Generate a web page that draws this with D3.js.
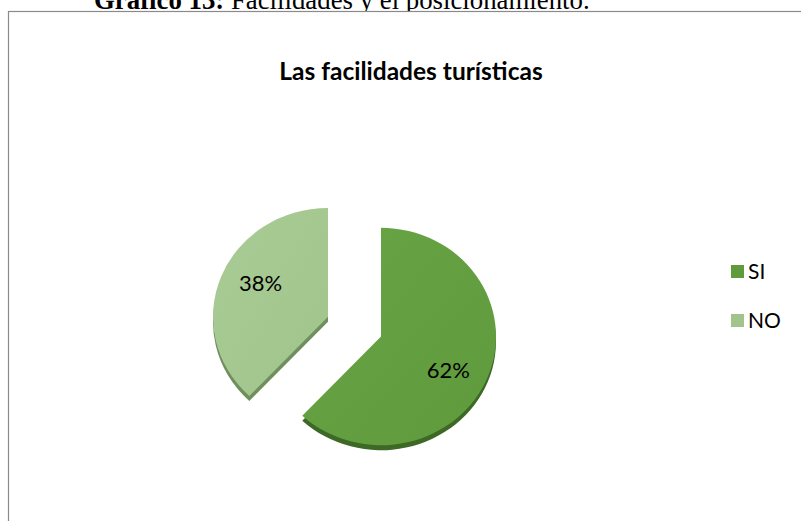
<!DOCTYPE html>
<html>
<head>
<meta charset="utf-8">
<script src="https://cdn.jsdelivr.net/npm/d3@7/dist/d3.min.js"></script>
<style>
  html, body { margin: 0; padding: 0; background: #ffffff; }
  svg { display: block; }
</style>
</head>
<body>
<svg id="chart" width="801" height="521"></svg>
<script>
// Survey answers: share of respondents
const categories = ["SI", "NO"];
const values = [62, 38];
const faceColors = ["#5f9a3c", "#a1c48c"];
const faceLight = ["#68a545", "#a9cb95"];
const sideColors = ["#3d6825", "#6f8f5c"];

const svg = d3.select("#chart");

// Caption above the chart frame (its top runs past the page edge)
const caption = svg.append("text")
  .attr("x", 94).attr("y", 9)
  .attr("font-family", "'Liberation Serif', 'Times New Roman', serif")
  .attr("font-size", 26.8)
  .attr("fill", "#000");
caption.append("tspan").attr("font-weight", "bold").text("Gráfico 13:");
caption.append("tspan").text(" Facilidades y el posicionamiento.");

// Chart frame
svg.append("rect")
  .attr("x", 8.5).attr("y", 11.5)
  .attr("width", 900).attr("height", 600)
  .attr("fill", "#fff")
  .attr("stroke", "#8a8a8a")
  .attr("stroke-width", 1.2);

// Title
svg.append("text")
  .attr("x", 411).attr("y", 80)
  .attr("text-anchor", "middle")
  .attr("font-family", "Lato, 'Open Sans', sans-serif")
  .attr("font-weight", "bold")
  .attr("font-size", 24.5)
  .attr("fill", "#000")
  .text("Las facilidades turísticas");

// Pie geometry (slightly tilted: vertical squash)
const cx = 381, cy = 336.5;
const radius = 115;
const squash = 0.945;
const depth = 5;
const explode = 57;

const pie = d3.pie().sort(null).value(d => d.value);
const data = pie(categories.map((c, i) => ({ name: c, value: values[i], i })));
const arc = d3.arc().innerRadius(0).outerRadius(radius);

const defs = svg.append("defs");
data.forEach((d, i) => {
  const g = defs.append("linearGradient")
    .attr("id", "face" + i)
    .attr("x1", "0%").attr("y1", "0%").attr("x2", "100%").attr("y2", "100%");
  g.append("stop").attr("offset", "0%").attr("stop-color", faceLight[i]);
  g.append("stop").attr("offset", "100%").attr("stop-color", faceColors[i]);
});

const sliceOffset = d => {
  if (d.data.name !== "NO") return [0, 0];
  const mid = (d.startAngle + d.endAngle) / 2;
  return [Math.sin(mid) * explode, -Math.cos(mid) * explode];
};

const slices = svg.append("g")
  .attr("transform", `translate(${cx},${cy})`)
  .selectAll("g.slice")
  .data(data)
  .join("g")
  .attr("class", "slice")
  .attr("transform", d => {
    const [ox, oy] = sliceOffset(d);
    return `translate(${ox},${oy * squash})`;
  });

// Side walls (depth), drawn beneath the faces
slices.append("path")
  .attr("transform", `translate(0,${depth}) scale(1,${squash})`)
  .attr("d", arc)
  .attr("fill", (d, i) => sideColors[i]);

// Top faces
slices.append("path")
  .attr("transform", `scale(1,${squash})`)
  .attr("d", arc)
  .attr("fill", (d, i) => `url(#face${i})`);

// Percentage labels, placed along each slice's mid-angle
const labelRx = radius * 0.63, labelRy = radius * 0.83;
slices.append("text")
  .attr("transform", d => {
    const mid = (d.startAngle + d.endAngle) / 2;
    return `translate(${Math.sin(mid) * labelRx},${-Math.cos(mid) * labelRy * squash})`;
  })
  .attr("dy", "0.36em")
  .attr("text-anchor", "middle")
  .attr("font-family", "Lato, 'Open Sans', sans-serif")
  .attr("font-size", 22)
  .attr("fill", "#000")
  .text(d => d.data.value + "%");

// Legend
const legend = svg.append("g")
  .selectAll("g")
  .data(categories)
  .join("g")
  .attr("transform", (d, i) => `translate(731,${265 + i * 49})`);
legend.append("rect")
  .attr("width", 13).attr("height", 13)
  .attr("fill", (d, i) => faceColors[i]);
legend.append("text")
  .attr("x", 17).attr("y", 14)
  .attr("font-family", "Lato, 'Open Sans', sans-serif")
  .attr("font-size", 21)
  .attr("fill", "#000")
  .text(d => d);
</script>
</body>
</html>
